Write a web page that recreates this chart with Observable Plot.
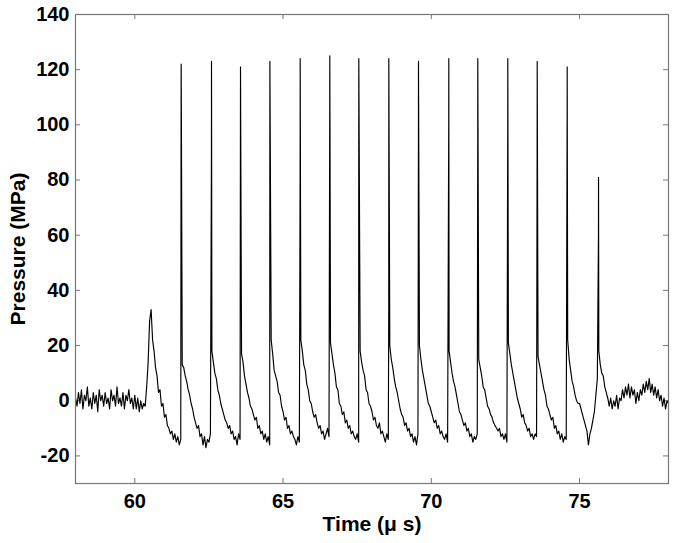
<!DOCTYPE html>
<html>
<head>
<meta charset="utf-8">
<script src="https://cdn.jsdelivr.net/npm/d3@7"></script>
<script src="https://cdn.jsdelivr.net/npm/@observablehq/plot@0.6"></script>
<style>
  html, body { margin: 0; padding: 0; background: #fff; }
  #chart svg { display: block; }
</style>
</head>
<body>
<div id="chart"></div>
<script>
// Sampled pressure trace (MPa), one sample every 0.05 µs starting at 58 µs
const startTime = 58;
const sampleStep = 0.05;
const pressure = [
  // 58
  1, -2, 3, -1, 4, -3, 2, 0, 5, -2, 1, -3, 3, -1, 2, -4, 4, 0, 2, -2,
  // 59
  3, -1, 1, -3, 4, 0, 2, -2, 5, -1, 1, -2, 3, -3, 2, 0, 4, -1, 1, -3,
  // 60
  2, -3, 1, -4, 0, -3, -1, -2, 5, 14, 29, 33, 22, 18, 12, 9, 3, 4, -2, -1,
  // 61
  -6, -5, -9, -10, -12, -11, -14, -12, -15, -13, -16, -14, 13, 12, 9, 7, 4, 2, -1, -3,
  // 62
  -6, -8, -10, -9, -13, -12, -16, -13, -17, -14, -15, -12, 18, 14, 10, 8, 4, 2, -1, -3,
  // 63
  -5, -7, -8, -10, -9, -12, -11, -14, -13, -16, -12, -14, 17, 14, 9, 6, 3, 1, -2, -3,
  // 64
  -5, -7, -6, -10, -9, -12, -11, -14, -12, -15, -13, -16, 22, 17, 11, 9, 7, 3, 2, -2,
  // 65
  -4, -7, -6, -10, -9, -12, -11, -13, -14, -16, -13, -15, 22, 18, 13, 11, 6, 4, 0, -1,
  // 66
  -4, -6, -5, -8, -10, -9, -12, -11, -14, -12, -10, -13, 21, 17, 13, 10, 5, 4, -1, -2,
  // 67
  -5, -4, -8, -7, -10, -9, -12, -11, -13, -14, -12, -15, 18, 14, 11, 9, 4, 3, -1, -2,
  // 68
  -4, -7, -6, -9, -10, -8, -12, -11, -13, -15, -12, -14, 20, 15, 12, 8, 5, 3, 0, -3,
  // 69
  -5, -6, -9, -8, -11, -10, -13, -12, -15, -13, -16, -12, 20, 15, 11, 8, 5, 2, -1, -2,
  // 70
  -4, -6, -8, -7, -10, -9, -12, -11, -13, -14, -12, -15, 18, 14, 10, 7, 5, 2, -1, -4,
  // 71
  -5, -7, -9, -8, -11, -10, -13, -12, -15, -13, -14, -12, 15, 12, 9, 5, 4, 1, -2, -3,
  // 72
  -5, -6, -8, -9, -10, -11, -10, -13, -12, -14, -12, -15, 21, 17, 13, 10, 7, 4, 1, -1,
  // 73
  -3, -6, -5, -8, -9, -11, -10, -13, -12, -14, -12, -13, 16, 13, 10, 7, 4, 2, -2, -3,
  // 74
  -5, -7, -6, -10, -9, -12, -11, -14, -12, -15, -13, -14, 22, 15, 11, 7, 5, 2, 0, -1,
  // 75
  -1, -3, -5, -7, -9, -11, -16, -12, -10, -7, -4, 2, 8, 18, 13, 10, 9, 5, 3, 1,
  // 76
  -2, 1, -3, 0, -2, 2, -3, 1, 0, 4, 1, 5, 2, 6, 1, 5, 2, 4, -1, 3,
  // 77
  0, 4, 2, 6, 3, 7, 4, 8, 3, 6, 2, 5, 1, 4, 0, 2, -2, 1, -3, 0,
  // 78
  -1
];

// Shock spikes: arrival time (µs), peak pressure and the sample on the rise (MPa)
const spikeTimes     = [61.565, 62.587, 63.565, 64.556, 65.578, 66.577, 67.555, 68.567, 69.568, 70.59, 71.568, 72.58, 73.572, 74.583, 75.64];
const spikePeaks     = [122, 123, 121, 123, 124, 125, 124, 124, 123, 124, 124, 124, 123, 121, 81];
const spikeShoulders = [118, 89, 100, 79, 84, 109, 95, 33, 90, 100, 95, 100, 95, 102, 60];

const xTicks = [60, 65, 70, 75];
const yTicks = [-20, 0, 20, 40, 60, 80, 100, 120, 140];
const xDomain = [58, 78];
const yDomain = [-30, 140];
const xLabel = "Time (\u03bc s)";
const yLabel = "Pressure (MPa)";

// Build the trace table
const trace = pressure.map((p, i) => ({ t: startTime + i * sampleStep, p }));
spikeTimes.forEach((t, k) => {
  trace.push({ t: t - 0.002, p: spikeShoulders[k] });
  trace.push({ t: t, p: spikePeaks[k] });
});
trace.sort((a, b) => a.t - b.t);

const W = 676, H = 543;
const mL = 75, mR = 8, mT = 14, mB = 60;
const innerW = W - mL - mR;
const innerH = H - mT - mB;
const axisColor = "#777";
const font = "'Liberation Sans', Arial, Helvetica, sans-serif";

const chart = Plot.plot({
  width: W,
  height: H,
  marginLeft: mL,
  marginRight: mR,
  marginTop: mT,
  marginBottom: mB,
  x: { domain: xDomain },
  y: { domain: yDomain },
  style: { fontFamily: font, background: "white", color: "black" },
  marks: [
    Plot.axisX(xTicks, { tickSize: 0, tickPadding: 10, fontSize: 20, fontWeight: "bold", label: null, fill: "black" }),
    Plot.axisY(yTicks, { tickSize: 0, tickPadding: 6, fontSize: 20, fontWeight: "bold", label: null, fill: "black", tickFormat: d => String(d) }),
    // inward ticks on all four sides (MATLAB style)
    Plot.ruleX(xTicks, { x: d => d, stroke: axisColor, insetTop: innerH - 5 }),
    Plot.ruleX(xTicks, { x: d => d, stroke: axisColor, insetBottom: innerH - 5 }),
    Plot.ruleY(yTicks, { y: d => d, stroke: axisColor, insetRight: innerW - 5 }),
    Plot.ruleY(yTicks, { y: d => d, stroke: axisColor, insetLeft: innerW - 5 }),
    Plot.line(trace, { x: "t", y: "p", stroke: "black", strokeWidth: 1.15 }),
    Plot.frame({ stroke: axisColor, strokeWidth: 1.2 }),
    Plot.text([xLabel], { text: d => d, frameAnchor: "bottom", dy: 41, lineAnchor: "middle", textAnchor: "middle", fontSize: 21, fontWeight: "bold", fill: "black" }),
    Plot.text([yLabel], { text: d => d, frameAnchor: "left", dx: -57, rotate: -90, lineAnchor: "middle", textAnchor: "middle", fontSize: 21, fontWeight: "bold", fill: "black" })
  ]
});

document.getElementById("chart").appendChild(chart);
</script>
</body>
</html>
